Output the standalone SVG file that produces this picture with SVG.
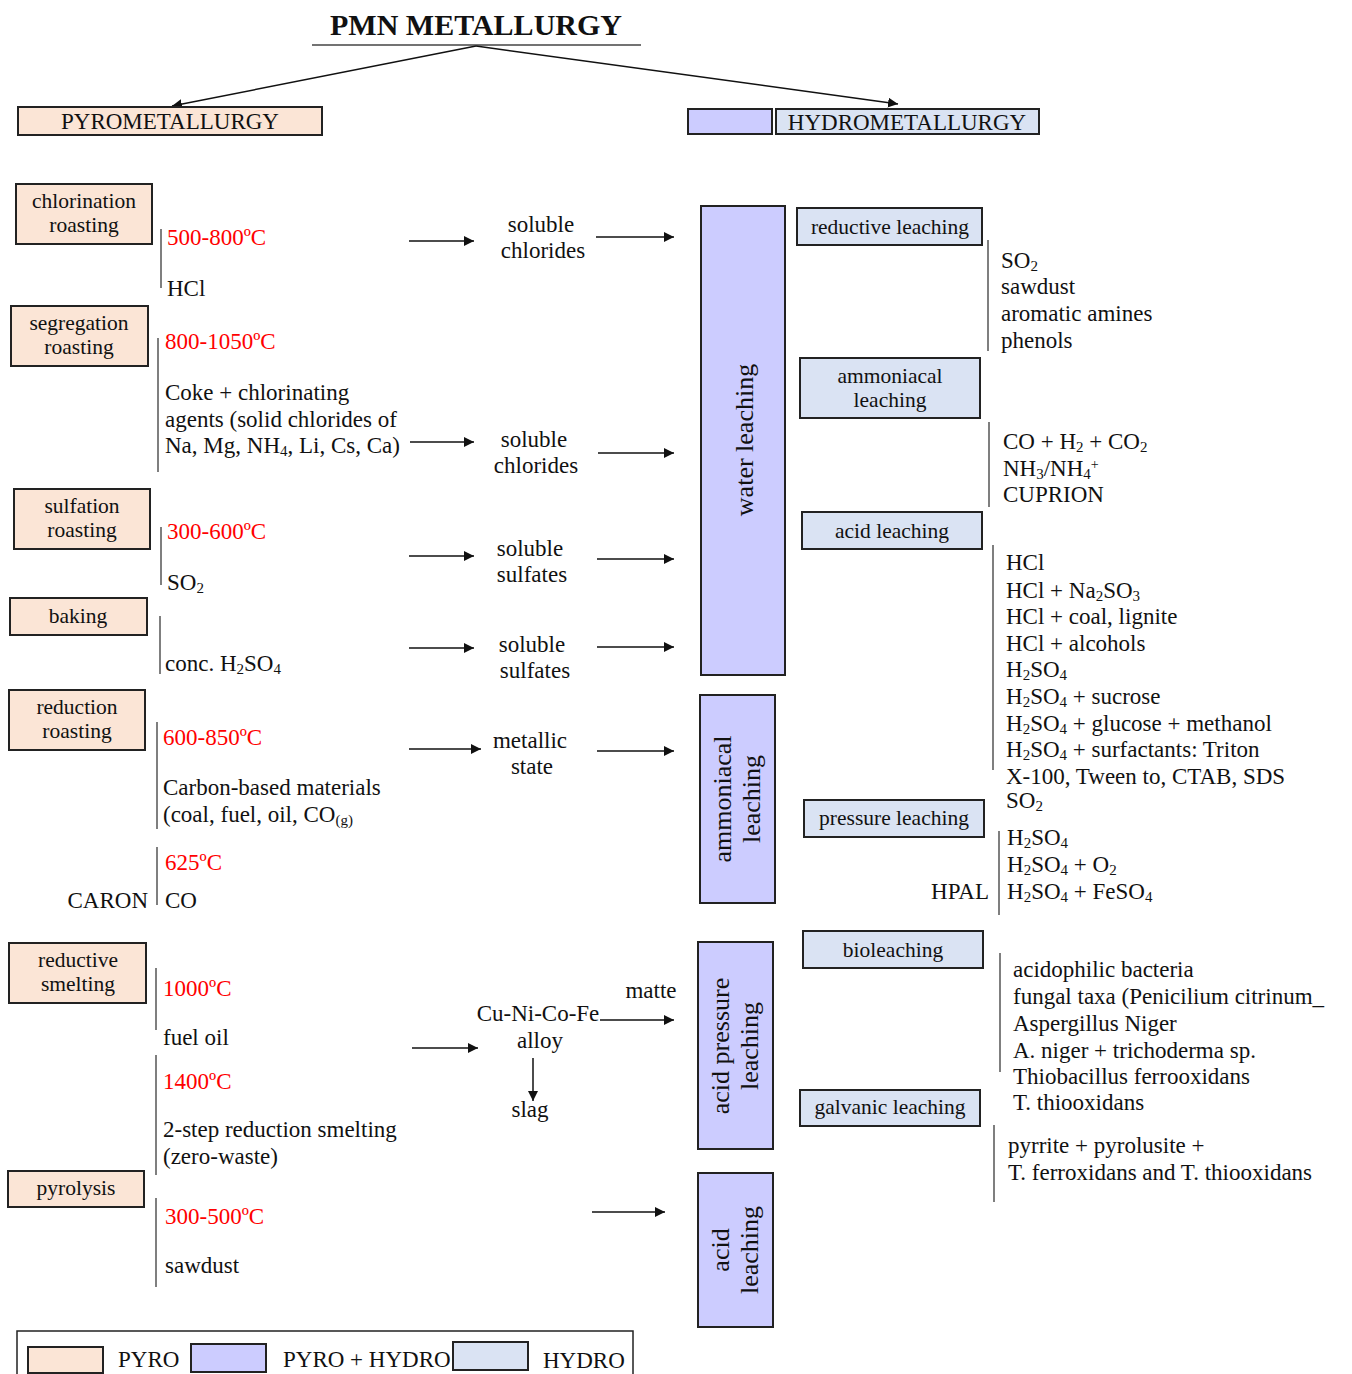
<svg xmlns="http://www.w3.org/2000/svg" width="1352" height="1374" viewBox="0 0 1352 1374">
<defs>
<style>
text{font-family:"Liberation Serif","Times New Roman",serif;font-size:23px;fill:#111}
.t{font-size:21.5px}
.r{fill:#ff0000}
.c{text-anchor:middle}
.e{text-anchor:end}
.pyro{fill:#fbe5d6;stroke:#222;stroke-width:2}
.ph{fill:#ccccff;stroke:#222;stroke-width:2}
.hy{fill:#dae3f3;stroke:#222;stroke-width:2}
.br{stroke:#555;stroke-width:1.5;fill:none}
.ar{stroke:#111;stroke-width:1.5;fill:none;marker-end:url(#ah)}
.s{font-size:15px;baseline-shift:-3px}
.p{font-size:14px;baseline-shift:7px}
.v{font-size:26px}
</style>
<marker id="ah" viewBox="0 0 10 10" refX="10" refY="5" markerWidth="10" markerHeight="10" markerUnits="userSpaceOnUse" orient="auto">
<path d="M0,0 L10,5 L0,10 z" fill="#111"/>
</marker>
</defs>
<rect width="1352" height="1374" fill="#fff"/>

<g id="title">
<text x="476" y="35" class="c" style="font-size:30px;font-weight:bold">PMN METALLURGY</text>
<line x1="312" y1="45" x2="641" y2="45" stroke="#444" stroke-width="1.5"/>
</g>

<g id="connectors">
<line class="ar" x1="476" y1="46" x2="172" y2="106"/>
<line class="ar" x1="476" y1="46" x2="898" y2="104"/>
<line class="ar" x1="409" y1="241" x2="474" y2="241"/>
<line class="ar" x1="596" y1="237" x2="674" y2="237"/>
<line class="ar" x1="410" y1="442" x2="474" y2="442"/>
<line class="ar" x1="598" y1="453" x2="674" y2="453"/>
<line class="ar" x1="409" y1="556" x2="474" y2="556"/>
<line class="ar" x1="597" y1="559" x2="674" y2="559"/>
<line class="ar" x1="409" y1="648" x2="474" y2="648"/>
<line class="ar" x1="597" y1="647" x2="674" y2="647"/>
<line class="ar" x1="409" y1="749" x2="481" y2="749"/>
<line class="ar" x1="597" y1="751" x2="674" y2="751"/>
<line class="ar" x1="412" y1="1048" x2="478" y2="1048"/>
<line class="ar" x1="600" y1="1020" x2="674" y2="1020"/>
<line class="ar" x1="533" y1="1058" x2="533" y2="1101"/>
<line class="ar" x1="592" y1="1212" x2="665" y2="1212"/>
</g>

<g id="brackets">
<line class="br" x1="161" y1="229" x2="161" y2="288"/>
<line class="br" x1="158" y1="338" x2="158" y2="472"/>
<line class="br" x1="161" y1="527" x2="161" y2="585"/>
<line class="br" x1="160" y1="616" x2="160" y2="674"/>
<line class="br" x1="157" y1="722" x2="157" y2="829"/>
<line class="br" x1="157" y1="847" x2="157" y2="905"/>
<line class="br" x1="156" y1="968" x2="156" y2="1030"/>
<line class="br" x1="156" y1="1055" x2="156" y2="1175"/>
<line class="br" x1="156" y1="1198" x2="156" y2="1287"/>
<line class="br" x1="988" y1="240" x2="988" y2="351"/>
<line class="br" x1="989" y1="422" x2="989" y2="507"/>
<line class="br" x1="993" y1="545" x2="993" y2="770"/>
<line class="br" x1="999" y1="831" x2="999" y2="915"/>
<line class="br" x1="1000" y1="953" x2="1000" y2="1072"/>
<line class="br" x1="994" y1="1125" x2="994" y2="1202"/>
</g>

<g id="pyrometallurgy">
<rect class="pyro" x="18" y="107" width="304" height="28"/>
<text x="170" y="129" class="c">PYROMETALLURGY</text>
</g>
<g id="hydro-marker"><rect class="ph" x="688" y="109" width="84" height="25"/></g>
<g id="hydrometallurgy">
<rect class="hy" x="776" y="109" width="263" height="25"/>
<text x="907" y="130" class="c">HYDROMETALLURGY</text>
</g>

<g id="chlorination-roasting">
<rect class="pyro" x="16" y="184" width="136" height="60"/>
<text x="84" y="208" class="c t">chlorination</text>
<text x="84" y="232" class="c t">roasting</text>
</g>
<g id="segregation-roasting">
<rect class="pyro" x="11" y="306" width="137" height="60"/>
<text x="79" y="330" class="c t">segregation</text>
<text x="79" y="354" class="c t">roasting</text>
</g>
<g id="sulfation-roasting">
<rect class="pyro" x="14" y="489" width="136" height="60"/>
<text x="82" y="513" class="c t">sulfation</text>
<text x="82" y="537" class="c t">roasting</text>
</g>
<g id="baking">
<rect class="pyro" x="10" y="598" width="137" height="37"/>
<text x="78" y="623" class="c t">baking</text>
</g>
<g id="reduction-roasting">
<rect class="pyro" x="9" y="690" width="136" height="60"/>
<text x="77" y="714" class="c t">reduction</text>
<text x="77" y="738" class="c t">roasting</text>
</g>
<g id="reductive-smelting">
<rect class="pyro" x="9" y="943" width="137" height="60"/>
<text x="78" y="967" class="c t">reductive</text>
<text x="78" y="991" class="c t">smelting</text>
</g>
<g id="pyrolysis">
<rect class="pyro" x="8" y="1171" width="136" height="36"/>
<text x="76" y="1195" class="c t">pyrolysis</text>
</g>

<g id="pyro-conditions">
<text x="167" y="245" class="r">500-800ºC</text>
<text x="167" y="296">HCl</text>
<text x="165" y="349" class="r">800-1050ºC</text>
<text x="165" y="400">Coke + chlorinating</text>
<text x="165" y="427">agents (solid chlorides of</text>
<text x="165" y="453">Na, Mg, NH<tspan class="s">4</tspan>, Li, Cs, Ca)</text>
<text x="167" y="539" class="r">300-600ºC</text>
<text x="167" y="590">SO<tspan class="s">2</tspan></text>
<text x="165" y="671">conc. H<tspan class="s">2</tspan>SO<tspan class="s">4</tspan></text>
<text x="163" y="745" class="r">600-850ºC</text>
<text x="163" y="795">Carbon-based materials</text>
<text x="163" y="822">(coal, fuel, oil, CO<tspan class="s">(g)</tspan></text>
<text x="165" y="870" class="r">625ºC</text>
<text x="148" y="908" class="e">CARON</text>
<text x="165" y="908">CO</text>
<text x="163" y="996" class="r">1000ºC</text>
<text x="163" y="1045">fuel oil</text>
<text x="163" y="1089" class="r">1400ºC</text>
<text x="163" y="1137">2-step reduction smelting</text>
<text x="163" y="1164">(zero-waste)</text>
<text x="165" y="1224" class="r">300-500ºC</text>
<text x="165" y="1273">sawdust</text>
</g>

<g id="intermediates">
<text x="541" y="232" class="c">soluble</text>
<text x="543" y="258" class="c">chlorides</text>
<text x="534" y="447" class="c">soluble</text>
<text x="536" y="473" class="c">chlorides</text>
<text x="530" y="556" class="c">soluble</text>
<text x="532" y="582" class="c">sulfates</text>
<text x="532" y="652" class="c">soluble</text>
<text x="535" y="678" class="c">sulfates</text>
<text x="530" y="748" class="c">metallic</text>
<text x="532" y="774" class="c">state</text>
<text x="538" y="1021" class="c">Cu-Ni-Co-Fe</text>
<text x="540" y="1048" class="c">alloy</text>
<text x="651" y="998" class="c">matte</text>
<text x="530" y="1117" class="c">slag</text>
</g>

<g id="water-leaching">
<rect class="ph" x="701" y="206" width="84" height="469"/>
<text class="c v" transform="translate(753,440) rotate(-90)">water leaching</text>
</g>
<g id="ammoniacal-leaching-v">
<rect class="ph" x="700" y="695" width="75" height="208"/>
<text class="c v" transform="translate(731,799) rotate(-90)">ammoniacal</text>
<text class="c v" transform="translate(760,799) rotate(-90)">leaching</text>
</g>
<g id="acid-pressure-leaching">
<rect class="ph" x="698" y="942" width="75" height="207"/>
<text class="c v" transform="translate(729,1046) rotate(-90)">acid pressure</text>
<text class="c v" transform="translate(758,1046) rotate(-90)">leaching</text>
</g>
<g id="acid-leaching-v">
<rect class="ph" x="698" y="1173" width="75" height="154"/>
<text class="c v" transform="translate(729,1250) rotate(-90)">acid</text>
<text class="c v" transform="translate(758,1250) rotate(-90)">leaching</text>
</g>

<g id="reductive-leaching">
<rect class="hy" x="797" y="208" width="185" height="37"/>
<text x="890" y="234" class="c t">reductive leaching</text>
</g>
<g id="ammoniacal-leaching">
<rect class="hy" x="800" y="358" width="180" height="60"/>
<text x="890" y="383" class="c t">ammoniacal</text>
<text x="890" y="407" class="c t">leaching</text>
</g>
<g id="acid-leaching">
<rect class="hy" x="802" y="512" width="180" height="37"/>
<text x="892" y="538" class="c t">acid leaching</text>
</g>
<g id="pressure-leaching">
<rect class="hy" x="804" y="800" width="180" height="37"/>
<text x="894" y="825" class="c t">pressure leaching</text>
</g>
<g id="bioleaching">
<rect class="hy" x="803" y="931" width="180" height="37"/>
<text x="893" y="957" class="c t">bioleaching</text>
</g>
<g id="galvanic-leaching">
<rect class="hy" x="800" y="1090" width="180" height="36"/>
<text x="890" y="1114" class="c t">galvanic leaching</text>
</g>

<g id="hydro-conditions">
<text x="1001" y="268">SO<tspan class="s">2</tspan></text>
<text x="1001" y="294">sawdust</text>
<text x="1001" y="321">aromatic amines</text>
<text x="1001" y="348">phenols</text>
<text x="1003" y="449">CO + H<tspan class="s">2</tspan> + CO<tspan class="s">2</tspan></text>
<text x="1003" y="476">NH<tspan class="s">3</tspan>/NH<tspan class="s">4</tspan><tspan class="p">+</tspan></text>
<text x="1003" y="502">CUPRION</text>
<text x="1006" y="570">HCl</text>
<text x="1006" y="598">HCl + Na<tspan class="s">2</tspan>SO<tspan class="s">3</tspan></text>
<text x="1006" y="624">HCl + coal, lignite</text>
<text x="1006" y="651">HCl + alcohols</text>
<text x="1006" y="677">H<tspan class="s">2</tspan>SO<tspan class="s">4</tspan></text>
<text x="1006" y="704">H<tspan class="s">2</tspan>SO<tspan class="s">4</tspan> + sucrose</text>
<text x="1006" y="731">H<tspan class="s">2</tspan>SO<tspan class="s">4</tspan> + glucose + methanol</text>
<text x="1006" y="757">H<tspan class="s">2</tspan>SO<tspan class="s">4</tspan> + surfactants: Triton</text>
<text x="1006" y="784">X-100, Tween to, CTAB, SDS</text>
<text x="1006" y="808">SO<tspan class="s">2</tspan></text>
<text x="1007" y="845">H<tspan class="s">2</tspan>SO<tspan class="s">4</tspan></text>
<text x="1007" y="872">H<tspan class="s">2</tspan>SO<tspan class="s">4</tspan> + O<tspan class="s">2</tspan></text>
<text x="989" y="899" class="e">HPAL</text>
<text x="1007" y="899">H<tspan class="s">2</tspan>SO<tspan class="s">4</tspan> + FeSO<tspan class="s">4</tspan></text>
<text x="1013" y="977">acidophilic bacteria</text>
<text x="1013" y="1004">fungal taxa (Penicilium citrinum_</text>
<text x="1013" y="1031">Aspergillus Niger</text>
<text x="1013" y="1058">A. niger + trichoderma sp.</text>
<text x="1013" y="1084">Thiobacillus ferrooxidans</text>
<text x="1013" y="1110">T. thiooxidans</text>
<text x="1008" y="1153">pyrrite + pyrolusite +</text>
<text x="1008" y="1180">T. ferroxidans and T. thiooxidans</text>
</g>

<g id="legend">
<rect x="17" y="1331" width="616" height="50" fill="none" stroke="#222" stroke-width="1.5"/>
<rect class="pyro" x="28" y="1347" width="75" height="26"/>
<text x="118" y="1367">PYRO</text>
<rect class="ph" x="191" y="1344" width="75" height="28"/>
<text x="283" y="1367">PYRO + HYDRO</text>
<rect class="hy" x="453" y="1342" width="75" height="28"/>
<text x="543" y="1368">HYDRO</text>
</g>
</svg>
